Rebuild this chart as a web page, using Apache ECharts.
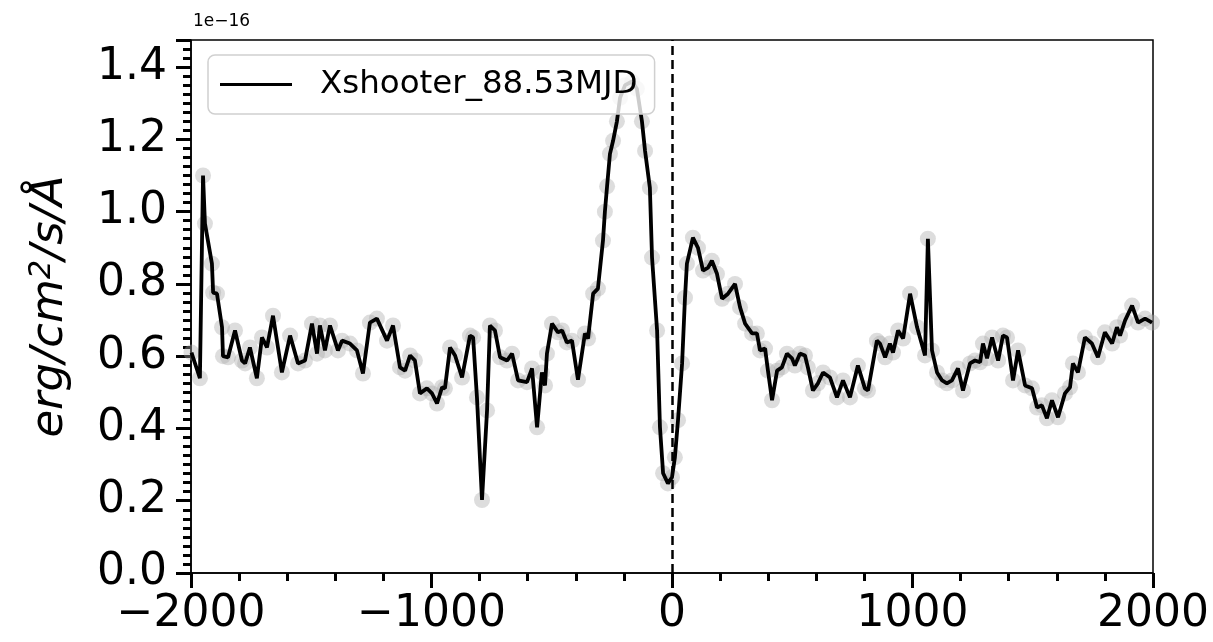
<!DOCTYPE html>
<html>
<head>
<meta charset="utf-8">
<script src="https://cdn.jsdelivr.net/npm/echarts@6/dist/echarts.min.js"></script>
<style>html,body{margin:0;padding:0;background:#fff}#c{width:1213px;height:642px}</style>
</head>
<body>
<div id="c"></div>
<script>
// velocity (km/s)
var velocity = [-1998,-1963,-1950,-1942,-1913,-1908,-1892,-1871,-1867,-1846,-1817,-1788,-1775,-1755,-1726,-1705,-1684,-1659,-1622,-1588,-1555,-1526,-1497,-1476,-1464,-1443,-1422,-1389,-1372,-1339,-1310,-1285,-1256,-1227,-1185,-1160,-1131,-1110,-1089,-1069,-1048,-1019,-998,-977,-956,-944,-923,-902,-873,-840,-827,-811,-790,-769,-757,-736,-715,-686,-665,-640,-603,-582,-561,-541,-528,-520,-499,-474,-457,-437,-416,-391,-362,-349,-328,-308,-287,-279,-270,-258,-245,-229,-216,-195,-166,-146,-125,-112,-92,-83,-62,-50,-37,-17,0,12,25,42,54,62,87,108,129,150,166,187,208,233,262,283,304,333,353,366,387,399,416,437,457,478,499,511,532,553,565,586,607,628,657,686,711,740,773,802,815,852,865,886,906,919,940,961,990,1019,1052,1064,1081,1102,1123,1143,1164,1189,1210,1239,1260,1281,1293,1310,1331,1356,1376,1393,1418,1439,1468,1497,1518,1538,1559,1580,1605,1634,1655,1667,1688,1717,1746,1771,1800,1830,1850,1863,1884,1913,1938,1967,1996];
// flux (1e-16 erg/cm2/s/A)
var flux = [0.61,0.539,1.10,0.967,0.856,0.776,0.773,0.68,0.60,0.597,0.671,0.588,0.58,0.624,0.539,0.652,0.624,0.712,0.555,0.657,0.58,0.588,0.69,0.607,0.685,0.616,0.685,0.616,0.643,0.635,0.616,0.552,0.693,0.704,0.643,0.685,0.569,0.56,0.602,0.588,0.497,0.511,0.497,0.469,0.514,0.511,0.624,0.602,0.541,0.657,0.652,0.486,0.202,0.45,0.685,0.671,0.597,0.588,0.607,0.533,0.528,0.566,0.403,0.555,0.519,0.607,0.69,0.666,0.671,0.638,0.643,0.535,0.663,0.649,0.773,0.787,0.92,1.00,1.07,1.16,1.196,1.25,1.315,1.35,1.36,1.34,1.25,1.168,1.066,0.873,0.671,0.403,0.276,0.248,0.265,0.32,0.423,0.58,0.762,0.856,0.928,0.9,0.837,0.845,0.864,0.828,0.759,0.773,0.80,0.735,0.69,0.663,0.663,0.616,0.621,0.56,0.478,0.56,0.569,0.607,0.594,0.574,0.607,0.602,0.569,0.505,0.525,0.555,0.541,0.486,0.533,0.486,0.574,0.511,0.505,0.643,0.635,0.597,0.635,0.61,0.671,0.649,0.773,0.68,0.602,0.925,0.616,0.555,0.533,0.525,0.533,0.566,0.505,0.58,0.588,0.583,0.635,0.594,0.652,0.588,0.657,0.652,0.533,0.616,0.519,0.511,0.458,0.464,0.428,0.478,0.431,0.497,0.514,0.58,0.555,0.652,0.635,0.597,0.666,0.635,0.68,0.657,0.699,0.74,0.693,0.704,0.693];
var yMajorStep = 0.2;
var yMinorStep = 0.025;
var seriesName = 'Xshooter_88.53MJD';

var pts = velocity.map(function (v, i) { return [v, flux[i]]; });
var FONT = 'DejaVu Sans';
function isMajor(v) { return Math.abs(v / yMajorStep - Math.round(v / yMajorStep)) < 1e-6; }
var chart = echarts.init(document.getElementById('c'));
chart.setOption({
  animation: false,
  backgroundColor: '#fff',
  grid: { left: 191, right: 60, top: 40, bottom: 69, show: true, borderColor: '#000', borderWidth: 1.5, backgroundColor: 'transparent' },
  xAxis: {
    type: 'value', min: -2000, max: 2000, interval: 1000,
    axisLine: { onZero: false, lineStyle: { color: '#000', width: 1.5 } },
    axisTick: { show: true, length: 15, lineStyle: { color: '#000', width: 3 } },
    minorTick: { show: true, splitNumber: 5, length: 8, lineStyle: { color: '#000', width: 3 } },
    axisLabel: { color: '#000', fontSize: 44, fontFamily: FONT, margin: 20,
      formatter: function (v) { return v < 0 ? '\u2212' + Math.abs(v) : String(v); } },
    splitLine: { show: false }
  },
  yAxis: [{
    type: 'value', min: 0, max: 1.475, interval: yMinorStep,
    axisLine: { show: true, onZero: false, lineStyle: { color: '#000', width: 1.5 } },
    axisTick: { show: true, inside: false, length: 8, lineStyle: { color: '#000', width: 3 } },
    axisLabel: { show: false },
    splitLine: { show: false },
    name: '{a|erg/cm}{b|2}{a|/s/\u00C5}',
    nameLocation: 'middle', nameGap: 118, nameRotate: 90,
    nameTextStyle: { rich: {
      a: { fontSize: 45, fontStyle: 'italic', fontFamily: FONT, color: '#000' },
      b: { fontSize: 30, fontStyle: 'italic', fontFamily: FONT, color: '#000', verticalAlign: 'top', padding: [0, 0, 16, 0] }
    } }
  }, {
    type: 'value', min: 0, max: 1.475, interval: yMajorStep, position: 'left', offset: 0,
    axisLine: { show: false, onZero: false },
    axisTick: { show: true, inside: false, length: 15, lineStyle: { color: '#000', width: 3 } },
    axisLabel: { show: true, color: '#000', fontSize: 44, fontFamily: FONT, margin: 24,
      formatter: function (v) { return isMajor(v) ? v.toFixed(1) : ''; } },
    splitLine: { show: false }
  }],
  legend: {
    left: 208, top: 55, orient: 'horizontal',
    data: [{ name: seriesName, icon: 'rect' }],
    itemWidth: 72, itemHeight: 3,
    padding: [13, 17, 13, 12],
    backgroundColor: 'rgba(255,255,255,0.8)',
    borderColor: '#d0d0d0', borderWidth: 1.5, borderRadius: 7,
    textStyle: { fontSize: 32.5, fontFamily: FONT, color: '#000', padding: [0, 0, 0, 23] }
  },
  graphic: [{
    type: 'text', left: 193, top: 13,
    style: { text: '1e\u221216', fontSize: 17, fontFamily: FONT, fill: '#000' }
  }],
  series: [{
    type: 'scatter', name: 'pts', data: pts, symbolSize: 16, z: 1, silent: true,
    itemStyle: { color: 'rgba(170,170,170,0.5)' }
  }, {
    type: 'line', name: seriesName, data: pts, showSymbol: false, z: 3,
    lineStyle: { color: '#000', width: 3.8 }, itemStyle: { color: '#000' },
    markLine: { silent: true, symbol: 'none', label: { show: false },
      lineStyle: { color: '#000', width: 2.5, type: [9, 5] },
      data: [{ xAxis: 0 }] }
  }]
});
</script>
</body>
</html>
